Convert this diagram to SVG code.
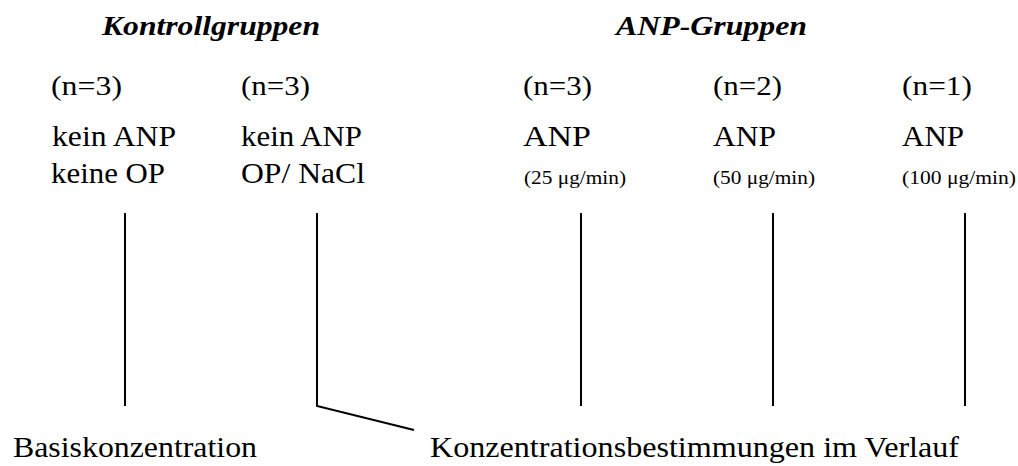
<svg xmlns="http://www.w3.org/2000/svg" width="1018" height="466" viewBox="0 0 1018 466">
  <style>
    text { font-family: "Liberation Serif", "Times New Roman", serif; fill: #000; }
    .head { font-size: 28px; font-weight: bold; font-style: italic; }
    .count { font-size: 27px; }
    .main { font-size: 29.5px; }
    .dose { font-size: 19px; }
    .conn { stroke: #000; stroke-width: 2; fill: none; }
  </style>
  <rect width="1018" height="466" fill="#fff"/>

  <!-- group headings -->
  <g id="head-kontroll">
    <text class="head" x="102" y="35" textLength="218" lengthAdjust="spacingAndGlyphs">Kontrollgruppen</text>
  </g>
  <g id="head-anp">
    <text class="head" x="616" y="35" textLength="191" lengthAdjust="spacingAndGlyphs">ANP-Gruppen</text>
  </g>

  <!-- columns -->
  <g id="col-1">
    <text class="count" x="51" y="95" textLength="71" lengthAdjust="spacingAndGlyphs">(n=3)</text>
    <text class="main" x="52" y="146" textLength="124" lengthAdjust="spacingAndGlyphs">kein ANP</text>
    <text class="main" x="51" y="183" textLength="114" lengthAdjust="spacingAndGlyphs">keine OP</text>
  </g>
  <g id="col-2">
    <text class="count" x="241" y="95" textLength="69" lengthAdjust="spacingAndGlyphs">(n=3)</text>
    <text class="main" x="241" y="146" textLength="121" lengthAdjust="spacingAndGlyphs">kein ANP</text>
    <text class="main" x="241" y="183" textLength="124" lengthAdjust="spacingAndGlyphs">OP/ NaCl</text>
  </g>
  <g id="col-3">
    <text class="count" x="523" y="95" textLength="69" lengthAdjust="spacingAndGlyphs">(n=3)</text>
    <text class="main" x="523" y="146" textLength="68" lengthAdjust="spacingAndGlyphs">ANP</text>
    <text class="dose" x="524" y="184" textLength="102" lengthAdjust="spacingAndGlyphs">(25 μg/min)</text>
  </g>
  <g id="col-4">
    <text class="count" x="713" y="95" textLength="69" lengthAdjust="spacingAndGlyphs">(n=2)</text>
    <text class="main" x="713" y="146" textLength="63" lengthAdjust="spacingAndGlyphs">ANP</text>
    <text class="dose" x="713" y="184" textLength="102" lengthAdjust="spacingAndGlyphs">(50 μg/min)</text>
  </g>
  <g id="col-5">
    <text class="count" x="902" y="95" textLength="70" lengthAdjust="spacingAndGlyphs">(n=1)</text>
    <text class="main" x="902" y="146" textLength="62" lengthAdjust="spacingAndGlyphs">ANP</text>
    <text class="dose" x="902" y="184" textLength="114" lengthAdjust="spacingAndGlyphs">(100 μg/min)</text>
  </g>

  <!-- outcome labels -->
  <g id="label-basis">
    <text class="main" x="13" y="457" textLength="244" lengthAdjust="spacingAndGlyphs">Basiskonzentration</text>
  </g>
  <g id="label-verlauf">
    <text class="main" x="430" y="457" textLength="529" lengthAdjust="spacingAndGlyphs">Konzentrationsbestimmungen im Verlauf</text>
  </g>

  <!-- connectors -->
  <g id="connectors">
    <line class="conn" x1="125" y1="213" x2="125" y2="406"/>
    <polyline class="conn" points="317,213 317,406 414,430"/>
    <line class="conn" x1="581" y1="213" x2="581" y2="406"/>
    <line class="conn" x1="773" y1="213" x2="773" y2="406"/>
    <line class="conn" x1="965" y1="213" x2="965" y2="406"/>
  </g>
</svg>
